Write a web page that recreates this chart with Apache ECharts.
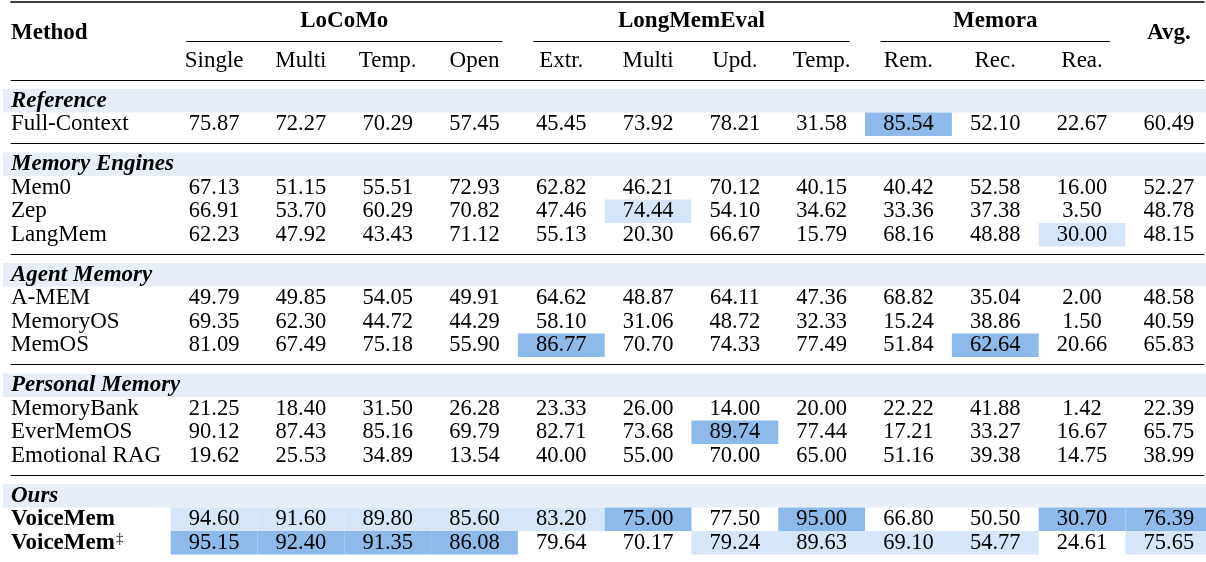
<!DOCTYPE html>
<html>
<head>
<meta charset="utf-8">
<script src="https://cdn.jsdelivr.net/npm/echarts@6/dist/echarts.min.js"></script>
<style>
html, body { margin: 0; padding: 0; background: #fff; }
#main { width: 1206px; height: 562px; }
</style>
</head>
<body>
<div id="main"></div>
<script>
// header texts
const benchmarks = ['LoCoMo', 'LongMemEval', 'Memora']
const benchSpans = [[0, 3], [4, 7], [8, 10]]
const subColumns = ['Single', 'Multi', 'Temp.', 'Open', 'Extr.', 'Multi', 'Upd.', 'Temp.', 'Rem.', 'Rec.', 'Rea.']
const avgLabel = 'Avg.'
const methodLabel = 'Method'

// method groups
const groupNames = ['Reference', 'Memory Engines', 'Agent Memory', 'Personal Memory', 'Ours']
const referenceMethods = ['Full-Context']
const engineMethods = ['Mem0', 'Zep', 'LangMem']
const agentMethods = ['A-MEM', 'MemoryOS', 'MemOS']
const personalMethods = ['MemoryBank', 'EverMemOS', 'Emotional RAG']
const oursMethods = ['VoiceMem', 'VoiceMem‡']

// scores: Single Multi Temp. Open | Extr. Multi Upd. Temp. | Rem. Rec. Rea. | Avg.
const referenceScores = [
	[75.87, 72.27, 70.29, 57.45, 45.45, 73.92, 78.21, 31.58, 85.54, 52.10, 22.67, 60.49]
]
const engineScores = [
	[67.13, 51.15, 55.51, 72.93, 62.82, 46.21, 70.12, 40.15, 40.42, 52.58, 16.00, 52.27],
	[66.91, 53.70, 60.29, 70.82, 47.46, 74.44, 54.10, 34.62, 33.36, 37.38, 3.50, 48.78],
	[62.23, 47.92, 43.43, 71.12, 55.13, 20.30, 66.67, 15.79, 68.16, 48.88, 30.00, 48.15]
]
const agentScores = [
	[49.79, 49.85, 54.05, 49.91, 64.62, 48.87, 64.11, 47.36, 68.82, 35.04, 2.00, 48.58],
	[69.35, 62.30, 44.72, 44.29, 58.10, 31.06, 48.72, 32.33, 15.24, 38.86, 1.50, 40.59],
	[81.09, 67.49, 75.18, 55.90, 86.77, 70.70, 74.33, 77.49, 51.84, 62.64, 20.66, 65.83]
]
const personalScores = [
	[21.25, 18.40, 31.50, 26.28, 23.33, 26.00, 14.00, 20.00, 22.22, 41.88, 1.42, 22.39],
	[90.12, 87.43, 85.16, 69.79, 82.71, 73.68, 89.74, 77.44, 17.21, 33.27, 16.67, 65.75],
	[19.62, 25.53, 34.89, 13.54, 40.00, 55.00, 70.00, 65.00, 51.16, 39.38, 14.75, 38.99]
]
const oursScores = [
	[94.60, 91.60, 89.80, 85.60, 83.20, 75.00, 77.50, 95.00, 66.80, 50.50, 30.70, 76.39],
	[95.15, 92.40, 91.35, 86.08, 79.64, 70.17, 79.24, 89.63, 69.10, 54.77, 24.61, 75.65]
]

const groupMethods = [referenceMethods, engineMethods, agentMethods, personalMethods, oursMethods]
const groupScores = [referenceScores, engineScores, agentScores, personalScores, oursScores]

const FONT = 'Liberation Serif'
const FS = 23        // labels and headers
const NUM_FS = 22.5  // numbers
const ROW_H = 23.5
const X_MIN = -2.34   // method column sits left of the first score column
const X_MAX = 11.405
const TRIM = 15.5     // cmidrule trim
const colors = { band: '#e7eef8', best: '#8dbaea', second: '#d6e6f8', text: '#000' }

// best and second best per column
const allRows = groupScores.flat()
const best = [], second = []
for (let c = 0; c < 12; c++) {
	const vals = allRows.map(r => r[c]).sort((a, b) => b - a)
	best[c] = vals[0]
	second[c] = vals[1]
}

function textEl(text, x, y, bold, size) {
	return {
		type: 'text', x: x, y: y,
		style: {
			text: text, fill: colors.text,
			font: (bold ? 'bold ' : '') + size + 'px "' + FONT + '"',
			align: 'center', verticalAlign: 'middle'
		}
	}
}

// header cells
const headerCells = []
benchmarks.forEach((b, i) => {
	headerCells.push({ col: (benchSpans[i][0] + benchSpans[i][1]) / 2, row: 0, text: b, bold: true, span: benchSpans[i] })
})
subColumns.forEach((s, i) => headerCells.push({ col: i, row: 1, text: s, bold: false }))
headerCells.push({ col: 11, row: 0, text: avgLabel, bold: true, shift: 11.5 })

function renderHeader(params, api) {
	const cell = headerCells[params.dataIndex]
	const p = api.coord([api.value(0), api.value(1)])
	const size = api.size([1, 1])
	const children = [textEl(cell.text, p[0], p[1] + (cell.shift || 0), cell.bold, FS)]
	if (cell.span) {
		const x1 = api.coord([cell.span[0] - 0.5, 0])[0] + TRIM
		const x2 = api.coord([cell.span[1] + 0.5, 0])[0] - TRIM
		const y = Math.round(p[1] + size[1] / 2) + 0.5
		children.push({ type: 'line', shape: { x1: x1, y1: y, x2: x2, y2: y }, style: { stroke: '#000', lineWidth: 1 } })
	}
	return { type: 'group', children: children }
}

function makeRender(cells) {
	return function (params, api) {
		const cell = cells[params.dataIndex]
		const p = api.coord([api.value(0), api.value(1)])
		const size = api.size([1, 1])
		if (cell.band) {
			const cs = params.coordSys
			return {
				type: 'rect',
				shape: { x: cs.x - 8, y: p[1] - size[1] / 2, width: cs.width + 10, height: size[1] },
				style: { fill: colors.band }
			}
		}
		const children = []
		if (cell.fill) {
			children.push({
				type: 'rect',
				shape: { x: p[0] - size[0] / 2, y: p[1] - size[1] / 2, width: size[0], height: size[1] },
				style: { fill: cell.fill }
			})
		}
		children.push(textEl(cell.text, p[0], p[1], false, NUM_FS))
		return { type: 'group', children: children }
	}
}

const grids = [{ left: 11, right: 2, top: 2, height: 78 }]
const xAxes = []
const yAxes = []
const series = []

function xAxisFor(i, width, offset) {
	return {
		gridIndex: i, type: 'value', min: X_MIN, max: X_MAX, position: 'top', offset: offset,
		axisLine: { show: true, onZero: false, lineStyle: { color: '#000', width: width } },
		axisTick: { show: false }, axisLabel: { show: false }, splitLine: { show: false }
	}
}

const labelRich = {
	h: { fontFamily: FONT, fontSize: FS, fontWeight: 'bold', color: colors.text },
	g: { fontFamily: FONT, fontSize: FS, fontWeight: 'bold', fontStyle: 'italic', color: colors.text },
	n: { fontFamily: FONT, fontSize: FS, color: colors.text },
	b: { fontFamily: FONT, fontSize: FS, fontWeight: 'bold', color: colors.text },
	s: { fontFamily: FONT, fontSize: 15, color: colors.text, verticalAlign: 'top', padding: [0, 0, 6, 1] }
}

xAxes.push(xAxisFor(0, 1.6, 0))
yAxes.push({
	gridIndex: 0, type: 'category', inverse: true, data: [methodLabel, ''], z: 5,
	axisLine: { show: false }, axisTick: { show: false }, splitLine: { show: false },
	axisLabel: {
		inside: true, margin: 0, align: 'left', interval: 0, padding: [23, 0, 0, 0],
		fontFamily: FONT, fontSize: FS,
		formatter: v => v ? '{h|' + v + '}' : '', rich: labelRich
	}
})
series.push({
	type: 'custom', xAxisIndex: 0, yAxisIndex: 0, z: 1, clip: false,
	renderItem: renderHeader,
	data: headerCells.map(c => [c.col, c.row])
})

let ruleY = 80
groupNames.forEach((name, g) => {
	const methods = groupMethods[g]
	const scores = groupScores[g]
	const gi = g + 1
	const top = ruleY + 9
	const height = (methods.length + 1) * ROW_H
	grids.push({ left: 11, right: 2, top: top, height: height })
	ruleY = top + height + 7.5
	xAxes.push(xAxisFor(gi, 1.1, 9))
	const isOurs = name === 'Ours'
	yAxes.push({
		gridIndex: gi, type: 'category', inverse: true, data: [name].concat(methods), z: 5,
		axisLine: { show: false }, axisTick: { show: false }, splitLine: { show: false },
		axisLabel: {
			inside: true, margin: 0, align: 'left', interval: 0,
			fontFamily: FONT, fontSize: FS,
			formatter: (v, idx) => {
				if (idx === 0) return '{g|' + v + '}'
				if (isOurs) {
					return v.endsWith('‡') ? '{b|' + v.slice(0, -1) + '}{s|‡}' : '{b|' + v + '}'
				}
				return '{n|' + v + '}'
			},
			rich: labelRich
		}
	})
	const cells = [{ col: 0, row: 0, band: true }]
	scores.forEach((row, r) => {
		row.forEach((v, c) => {
			let fill = null
			if (v === best[c]) fill = colors.best
			else if (v === second[c]) fill = colors.second
			cells.push({ col: c, row: r + 1, text: v.toFixed(2), fill: fill })
		})
	})
	series.push({
		type: 'custom', xAxisIndex: gi, yAxisIndex: gi, z: 1, clip: false,
		renderItem: makeRender(cells),
		data: cells.map(c => [c.col, c.row])
	})
})

const chart = echarts.init(document.getElementById('main'))
chart.setOption({
	animation: false,
	backgroundColor: '#fff',
	grid: grids,
	xAxis: xAxes,
	yAxis: yAxes,
	series: series
})
</script>
</body>
</html>
